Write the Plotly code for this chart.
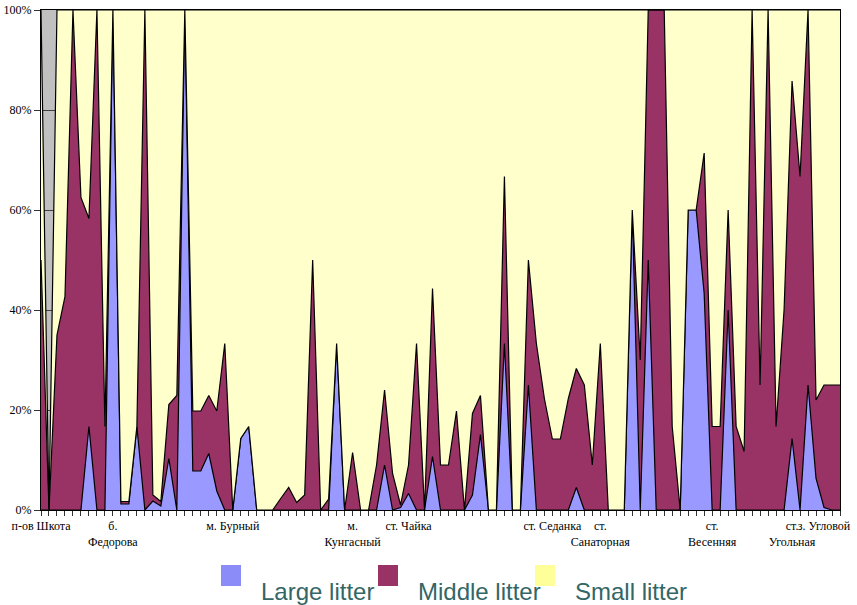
import plotly.graph_objects as go

# Category labels (only some samples carry a station name)
label_pos = [0, 9, 24, 39, 46, 64, 70, 84, 94, 98]
label_txt = ["п-ов Шкота", "б.<br>Федорова", "м. Бурный", "м.<br>Кунгасный", "ст. Чайка",
             "ст. Седанка", "ст.<br>Санаторная", "ст.<br>Весенняя", "ст.<br>Угольная", "з. Угловой"]
n_cat = 101

series_names = ["Large litter", "Middle litter", "Small litter"]

large = [0, 0, 0, 0, 0, 0, 16.7, 0, 0, 100,
         1.2, 1.2, 16.7, 0, 1.8, 0.8, 10.3, 0, 100, 7.8,
         7.8, 11.3, 3.8, 0, 0, 14.3, 16.7, 0, 0, 0,
         0, 0, 0, 0, 0, 0, 0, 33.3, 0, 0,
         0, 0, 0, 9, 0, 0.5, 3.3, 0, 0, 10.7,
         0, 0, 0, 0, 3, 15.1, 0, 0, 33.3, 0,
         0, 25, 0, 0, 0, 0, 0, 4.5, 0, 0,
         0, 0, 0, 0, 60, 0, 50, 0, 0, 0,
         0, 60, 60, 43.3, 0, 0, 40, 0, 0, 0,
         0, 0, 0, 0, 14.3, 0, 25, 6.3, 0.5, 0,
         0]
middle = [50, 0, 35, 42.7, 100, 62.5, 41.6, 100, 16.7, 0,
          0.5, 0.5, 0, 100, 1.2, 0.9, 10.8, 22.9, 0, 12,
          12, 11.6, 16, 33.3, 0, 0, 0, 0, 0, 0,
          2.3, 4.5, 1.5, 3, 50, 0, 2.2, 0, 0, 11.5,
          0, 0, 9, 15, 7.3, 0.5, 5.7, 33.3, 0, 33.6,
          9, 9, 19.8, 0, 16.3, 7.8, 0, 0, 33.4, 0,
          0, 25, 33.3, 22.3, 14.2, 14.2, 22.3, 23.8, 25, 9,
          33.3, 0, 0, 0, 0, 30, 50, 100, 100, 16.7,
          0, 0, 0, 28.1, 16.7, 16.7, 20, 16.7, 11.7, 100,
          25, 100, 16.7, 40, 71.5, 66.7, 75, 15.7, 24.5, 25,
          25]
small = [50, 0, 65, 57.3, 0, 37.5, 41.7, 0, 83.3, 0,
         98.3, 98.3, 83.3, 0, 97, 98.3, 78.9, 77.1, 0, 80.2,
         80.2, 77.1, 80.2, 66.7, 100, 85.7, 83.3, 100, 100, 100,
         97.7, 95.5, 98.5, 97, 50, 100, 97.8, 66.7, 100, 88.5,
         100, 100, 91, 76, 92.7, 99, 91, 66.7, 100, 55.7,
         91, 91, 80.2, 100, 80.7, 77.1, 100, 100, 33.3, 100,
         100, 50, 66.7, 77.7, 85.8, 85.8, 77.7, 71.7, 75, 91,
         66.7, 100, 100, 100, 40, 70, 0, 0, 0, 83.3,
         100, 40, 40, 28.6, 83.3, 83.3, 40, 83.3, 88.3, 0,
         75, 0, 83.3, 60, 14.2, 33.3, 0, 78, 75, 75,
         75]

area_colors = ["#9999FF", "#993366", "#FFFFCC"]
legend_colors = ["#8C8CF8", "#993366", "#FFFF99"]

x = list(range(n_cat))
ticktext = [""] * n_cat
for p, t in zip(label_pos, label_txt):
    ticktext[p] = t

fig = go.Figure()
for name, vals, col in zip(series_names, [large, middle, small], area_colors):
    fig.add_trace(go.Scatter(
        x=x, y=vals, name=name, mode="lines", stackgroup="one",
        fillcolor=col, line=dict(color="black", width=1.2),
        showlegend=False, hoverinfo="skip"))

W, H = 857, 605
L, R, T, B = 41, 840, 10, 510
def px(xp):
    return (xp - L) / (R - L)
def py(yp):
    return (B - yp) / (B - T)

# Manual legend (squares + labels) below the plot
sq_x = [221, 378, 535]
tx_x = [259, 416, 573]
shapes = []
annotations = []
for name, col, sx, tx in zip(series_names, legend_colors, sq_x, tx_x):
    shapes.append(dict(type="rect", xref="paper", yref="paper",
                       x0=px(sx), x1=px(sx + 20), y0=py(586), y1=py(565),
                       fillcolor=col, line=dict(width=0)))
    annotations.append(dict(text=name, xref="paper", yref="paper",
                            x=px(tx), y=py(591), xanchor="left", yanchor="middle",
                            showarrow=False,
                            font=dict(family="Liberation Sans", size=24, color="#336666")))

fig.update_layout(
    width=W, height=H,
    margin=dict(l=L, r=W - R, t=T, b=H - B, autoexpand=False),
    paper_bgcolor="white", plot_bgcolor="#C0C0C0",
    showlegend=False,
    shapes=shapes, annotations=annotations,
    font=dict(family="Liberation Serif", size=12, color="black"),
    hovermode=False,
)
fig.update_xaxes(range=[0, n_cat - 1], tickmode="array", tickvals=x, ticktext=ticktext,
                 ticks="outside", ticklen=5, tickcolor="#333333", tickwidth=1,
                 showgrid=False, zeroline=False, showline=True, linecolor="black",
                 linewidth=1, mirror=True, tickangle=0, automargin=False,
                 ticklabeloverflow="allow",
                 tickfont=dict(family="Liberation Serif", size=12, color="black"))
fig.update_yaxes(range=[0, 100], tickmode="array", tickvals=[0, 20, 40, 60, 80, 100],
                 ticktext=["0%", "20%", "40%", "60%", "80%", "100%"],
                 ticks="outside", ticklen=6, tickcolor="#333333", automargin=False,
                 ticklabeloverflow="allow",
                 showgrid=True, gridcolor="#404040", gridwidth=1,
                 zeroline=False, showline=True, linecolor="black", linewidth=1, mirror=True,
                 tickfont=dict(family="Liberation Serif", size=12, color="black"))

# remove the default page margin so the figure sits at the window's top-left corner
fig.write_html("out.html", config={"displayModeBar": False, "staticPlot": True},
               post_script="document.body.style.margin='0';")
